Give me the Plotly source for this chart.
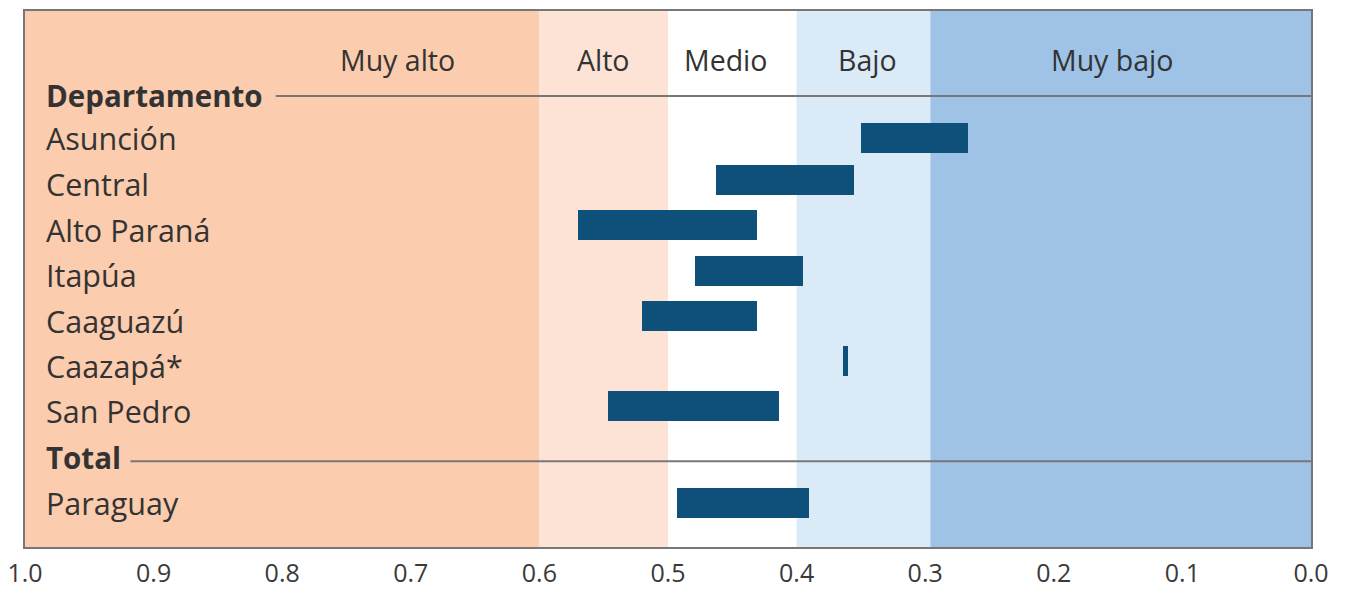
import plotly.graph_objects as go

# ---- data ----
departments = ["Asunción", "Central", "Alto Paraná", "Itapúa", "Caaguazú", "Caazapá*", "San Pedro", "Paraguay"]
range_high = [0.350, 0.463, 0.570, 0.479, 0.520, 0.364, 0.547, 0.493]
range_low = [0.267, 0.355, 0.431, 0.395, 0.431, 0.360, 0.414, 0.390]
row_pos = [1, 1.94, 2.95, 3.97, 4.98, 5.99, 6.99, 9.17]
label_pos = [1, 2.04, 3.06, 4.06, 5.09, 6.10, 7.11, 9.17]

band_names = ["Muy alto", "Alto", "Medio", "Bajo", "Muy bajo"]
band_from = [1.0, 0.6, 0.5, 0.4, 0.296]
band_to = [0.6, 0.5, 0.4, 0.296, 0.0]
band_label_x = [0.71, 0.55, 0.455, 0.345, 0.155]
band_colors = ["#FBCCAE", "#FDE3D5", "#FFFFFF", "#DBEAF7", "#9EC3E6"]

headers = ["Departamento", "Total"]
header_pos = [0.04, 8.14]
header_line_pos = [0.06, 8.23]
header_line_start = [0.805, 0.918]

tick_vals = [1.0, 0.9, 0.8, 0.7, 0.6, 0.5, 0.4, 0.3, 0.2, 0.1, 0.0]

FONT = "Open Sans"
TXT = "#333333"

fig = go.Figure()
fig.add_trace(go.Bar(
    y=row_pos,
    x=[h - l for h, l in zip(range_high, range_low)],
    base=range_low,
    orientation="h",
    width=0.67,
    marker=dict(color="#0E5079", line=dict(width=0)),
    hoverinfo="skip",
    showlegend=False,
))

shapes = []
for f, t, c in zip(band_from, band_to, band_colors):
    shapes.append(dict(type="rect", xref="x", yref="paper", x0=f, x1=t, y0=0, y1=1,
                       fillcolor=c, line=dict(width=0), layer="below"))
for hp, hs in zip(header_line_pos, header_line_start):
    shapes.append(dict(type="line", xref="x", yref="y", x0=hs, x1=0.0, y0=hp, y1=hp,
                       line=dict(color="#777777", width=2)))

annotations = []
for name, x in zip(band_names, band_label_x):
    annotations.append(dict(x=x, y=-0.74, xref="x", yref="y", text=name, showarrow=False,
                            xanchor="center", yanchor="middle",
                            font=dict(family=FONT, size=28.5, color=TXT)))
for name, y in zip(headers, header_pos):
    annotations.append(dict(x=0.9853, y=y, xref="x", yref="y", text="<b>" + name + "</b>",
                            showarrow=False, xanchor="left", yanchor="middle",
                            font=dict(family=FONT, size=29.5, color=TXT)))
for name, y in zip(departments, label_pos):
    annotations.append(dict(x=0.9853, y=y, xref="x", yref="y", text=name,
                            showarrow=False, xanchor="left", yanchor="middle",
                            font=dict(family=FONT, size=30.5, color=TXT)))

fig.update_layout(
    width=1347, height=589,
    margin=dict(l=25, r=36, t=11, b=42, autoexpand=False),
    paper_bgcolor="white",
    plot_bgcolor="white",
    shapes=shapes,
    annotations=annotations,
    xaxis=dict(range=[1.0, 0.0], tickvals=tick_vals, tickformat=".1f",
               showgrid=False, zeroline=False, showline=True, mirror=True,
               linecolor="#777777", linewidth=1.5, ticks="", automargin=False,
               ticklabeloverflow="allow", ticklabelstandoff=3,
               tickfont=dict(family=FONT, size=25, color="#3a3a3a")),
    yaxis=dict(range=[10.15, -1.84], showticklabels=False, showgrid=False,
               zeroline=False, showline=True, mirror=True, automargin=False,
               linecolor="#777777", linewidth=1.5, ticks=""),
    bargap=0,
)

fig.write_html("out.html", config={"displayModeBar": False},
               post_script="document.body.style.margin='0px';")
